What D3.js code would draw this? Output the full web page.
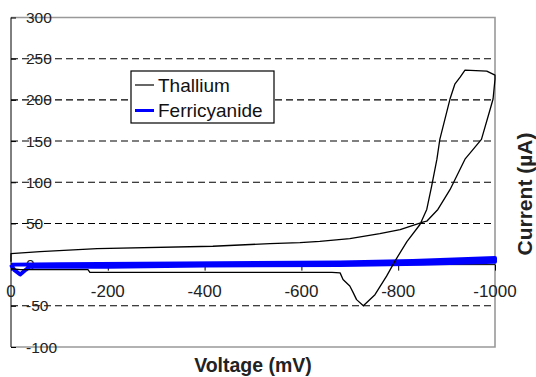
<!DOCTYPE html>
<html lang="en">
<head>
<meta charset="utf-8">
<title>Thallium vs Ferricyanide CV</title>
<script src="https://cdn.jsdelivr.net/npm/d3@7"></script>
<style>
  body { margin: 0; background: #fff; }
  svg { display: block; font-family: "Liberation Sans", Arial, sans-serif; }
  .tick-label { fill: #222; }
  .axis-title { font-weight: bold; fill: #222; }
</style>
</head>
<body>
<script>
// ----- data (mV, uA) -----
var thalliumV = [0, -19, -159, -163, -663, -680, -686, -700, -707, -714, -728, -752, -776, -793, -818, -845,
  -859, -869, -880, -886, -907, -917, -928, -938, -983, -1000,
  -1000, -996, -990, -972, -938, -907, -882, -859, -851, -804, -762, -700, -638, -597, -535, -417, -178, -60, 0, 0];
var thalliumI = [-5, -6, -6, -9.5, -9.5, -10, -18, -26, -34, -42.5, -50, -36.5, -14, 4, 28, 48.7,
  67, 95, 128, 152, 201, 219, 227.5, 236, 235, 230,
  225, 201, 188.6, 152, 128, 91, 67, 52.7, 51.7, 42.6, 37.7, 31.6, 28.3, 26.8, 25.5, 22.3, 19.5, 15.8, 13.4, 3.6];

var ferriV = [0, -6, -19, -31, -39, -200, -400, -680, -850, -1000,
  -1000, -930, -830, -680, -350, -100, 0];
var ferriI = [0, -6, -12, -6, -2.5, -2.5, -1, -0.5, 1, 3.5,
  8, 6.5, 4.5, 2.5, 1.5, 0.5, 0];

var yTicks = [300, 250, 200, 150, 100, 50, 0, -50, -100];
var yGrid = [250, 200, 150, 100, 50, -50];
var xTicks = [0, -200, -400, -600, -800, -1000];
var legendNames = ["Thallium", "Ferricyanide"];
var legendColors = ["#000", "#0000ff"];

// ----- layout -----
var W = 536, H = 377;
var plotLeft = 11, plotRight = 495, plotTop = 17.5, plotBottom = 347;

var x = d3.scaleLinear().domain([0, -1000]).range([plotLeft, plotRight]);
var y = d3.scaleLinear().domain([-100, 300]).range([plotBottom, plotTop]);

var svg = d3.select("body").append("svg")
  .attr("width", W)
  .attr("height", H);

// dashed grid
svg.append("g").selectAll("line")
  .data(yGrid).enter()
  .append("line")
  .attr("x1", plotLeft).attr("x2", plotRight)
  .attr("y1", function(d) { return y(d); })
  .attr("y2", function(d) { return y(d); })
  .attr("stroke", "#000")
  .attr("stroke-width", 1.1)
  .attr("stroke-dasharray", "7,4");

// grey frame (top, right, bottom)
svg.append("path")
  .attr("d", "M" + plotLeft + "," + y(300) + "H" + plotRight + "V" + y(-100) + "H" + plotLeft)
  .attr("fill", "none")
  .attr("stroke", "#999")
  .attr("stroke-width", 1.6);

// y axis: line on the left, ticks pointing inward, labels inside the plot
var yAxis = d3.axisRight(y).tickValues(yTicks).tickSize(5).tickFormat("");
svg.append("g")
  .attr("transform", "translate(" + plotLeft + ",0)")
  .call(yAxis)
  .call(function(g) { g.select(".domain").attr("d", "M0," + y(300) + "V" + y(-100)); });

svg.append("g").selectAll("text")
  .data(yTicks).enter()
  .append("text")
  .attr("class", "tick-label")
  .attr("x", 26)
  .attr("y", function(d) { return y(d); })
  .attr("dy", "0.36em")
  .style("font-size", "15.5px")
  .text(function(d) { return d; });

// x axis along zero
var xAxis = d3.axisBottom(x).tickValues(xTicks).tickSize(6).tickFormat("");
svg.append("g")
  .attr("transform", "translate(0," + y(0) + ")")
  .call(xAxis)
  .call(function(g) { g.select(".domain").attr("d", "M" + plotLeft + ",0H" + plotRight); });

svg.append("g").selectAll("text")
  .data(xTicks).enter()
  .append("text")
  .attr("class", "tick-label")
  .attr("x", function(d) { return x(d); })
  .attr("y", 297)
  .attr("text-anchor", "middle")
  .style("font-size", "17px")
  .text(function(d) { return d; });

// curves
var line = d3.line()
  .x(function(d) { return x(d[0]); })
  .y(function(d) { return y(d[1]); });

var ferri = d3.zip(ferriV, ferriI);
var thal = d3.zip(thalliumV, thalliumI);

svg.append("path")
  .datum(ferri)
  .attr("d", line)
  .attr("fill", "none")
  .attr("stroke", "#0000ff")
  .attr("stroke-width", 4)
  .attr("stroke-linejoin", "round");

svg.append("path")
  .datum(thal)
  .attr("d", line)
  .attr("fill", "none")
  .attr("stroke", "#000")
  .attr("stroke-width", 1.3)
  .attr("stroke-linejoin", "round");

// legend
var legend = svg.append("g").attr("transform", "translate(131,71)");
legend.append("rect")
  .attr("width", 143).attr("height", 52)
  .attr("fill", "#fff")
  .attr("stroke", "#000")
  .attr("stroke-width", 1.2);

legendNames.forEach(function(name, i) {
  var ly = 14 + i * 25.5;
  legend.append("line")
    .attr("x1", 4).attr("x2", 23)
    .attr("y1", ly).attr("y2", ly)
    .attr("stroke", legendColors[i])
    .attr("stroke-width", i == 1 ? 3 : 1.2);
  legend.append("text")
    .attr("x", 27)
    .attr("y", ly)
    .attr("dy", "0.36em")
    .style("font-size", "19px")
    .attr("fill", "#111")
    .text(name);
});

// axis titles
svg.append("text")
  .attr("class", "axis-title")
  .attr("x", (plotLeft + plotRight) / 2)
  .attr("y", 372)
  .attr("text-anchor", "middle")
  .style("font-size", "19.5px")
  .text("Voltage (mV)");

svg.append("text")
  .attr("class", "axis-title")
  .attr("transform", "translate(532,194) rotate(-90)")
  .attr("text-anchor", "middle")
  .style("font-size", "21px")
  .text("Current (\u00B5A)");
</script>
</body>
</html>
